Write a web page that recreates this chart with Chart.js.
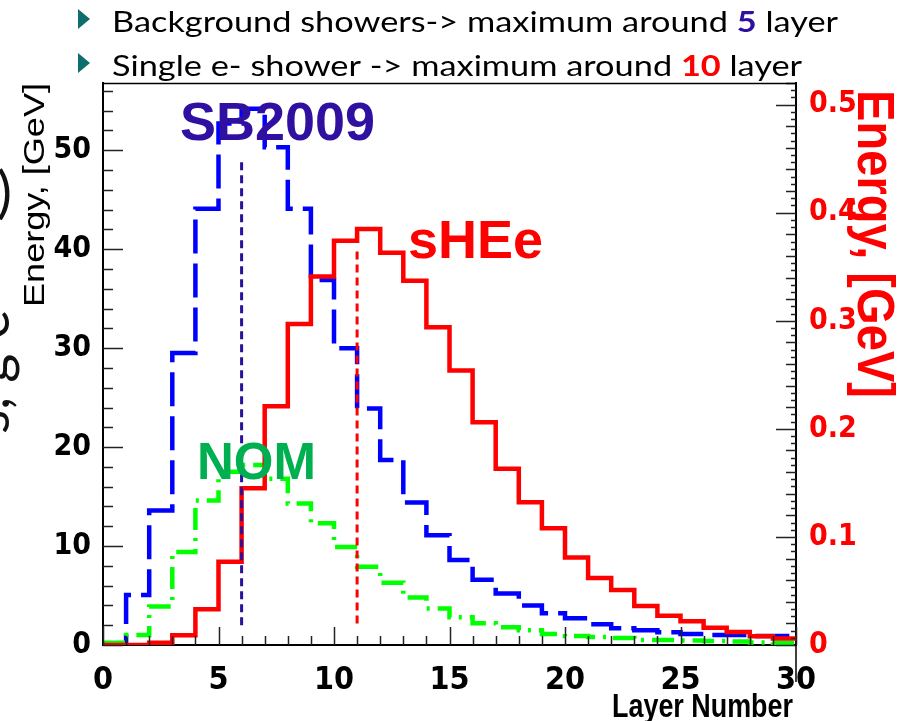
<!DOCTYPE html>
<html>
<head>
<meta charset="utf-8">
<title>Longitudinal shower profile</title>
<script src="https://cdn.jsdelivr.net/npm/chart.js@4.4.1/dist/chart.umd.min.js"></script>
<style>
  html, body { margin: 0; padding: 0; background: #fff; }
  #wrap { width: 902px; height: 721px; }
</style>
</head>
<body>
<div id="wrap"><canvas id="profileChart" width="902" height="721"></canvas></div>
<script>
// layer bin edges (30 layers)
const layerEdges = [0, 1, 2, 3, 4, 5, 6, 7, 8, 9, 10, 11, 12, 13, 14, 15,
  16, 17, 18, 19, 20, 21, 22, 23, 24, 25, 26, 27, 28, 29, 30];

// energy per layer, GeV (left axis)
const sb2009 = [0, 5.05, 13.6, 29.5, 44.1, 52.7, 54.2, 50.3, 44.1, 36.9, 30.0, 23.9, 18.7, 14.4, 11.1,
  8.6, 6.6, 5.2, 4.0, 3.2, 2.7, 2.1, 1.7, 1.5, 1.3, 1.1, 1.0, 1.0, 0.9, 0.9];
const nom = [0.23, 1.0, 3.9, 9.4, 14.6, 17.5, 18.2, 16.8, 14.3, 12.3, 9.9, 7.9, 6.3, 4.8, 3.7,
  2.8, 2.2, 1.8, 1.5, 1.1, 0.9, 0.8, 0.7, 0.5, 0.5, 0.45, 0.4, 0.35, 0.25, 0.2];

// single electron shower, GeV (right axis)
const sHEe = [0, 0, 0.002, 0.009, 0.033, 0.077, 0.145, 0.221, 0.297, 0.341, 0.374, 0.385, 0.363, 0.337, 0.294,
  0.254, 0.206, 0.163, 0.132, 0.108, 0.081, 0.062, 0.051, 0.036, 0.027, 0.022, 0.016, 0.012, 0.008, 0.006];

// shower maximum markers: layer, lower and upper end of the dashed line
const maxLayers = [6, 11];
const maxLineLow = [2.0, 0.02];
const maxLineHigh = [49.3, 0.364];

const CONDENSED = '"DejaVu Sans Condensed", "Liberation Sans", Arial, sans-serif';
const SANS = '"Liberation Sans", Arial, sans-serif';
const SLIDE = 'Lato, "Open Sans", sans-serif';

// histogram as step points on the bin edges
function histPoints(values) {
  return layerEdges.map((e, i) => ({ x: e, y: values[Math.min(i, values.length - 1)] }));
}

function markerPoints(i) {
  return [{ x: maxLayers[i], y: maxLineLow[i] }, { x: maxLayers[i], y: maxLineHigh[i] }];
}

// text squeezed/stretched along its own direction to a given length
function fitText(ctx, text, font, color, x, y, rot, len, align) {
  ctx.save();
  ctx.font = font;
  ctx.fillStyle = color;
  const w = ctx.measureText(text).width;
  ctx.translate(x, y);
  ctx.rotate(rot);
  ctx.scale(len / w, 1);
  ctx.textAlign = align;
  ctx.textBaseline = 'alphabetic';
  ctx.fillText(text, 0, 0);
  ctx.restore();
}

// inner ticks, frame, titles, series names and the slide text around the pad
const padDecor = {
  id: 'padDecor',
  afterDatasetsDraw(chart) {
    const { ctx, chartArea: a, scales: { x, y, y1 } } = chart;
    ctx.save();

    ctx.strokeStyle = '#222';
    ctx.lineWidth = 1.5;
    ctx.beginPath();
    for (let i = 0; i <= 28; i++) {
      const py = Math.round(y.getPixelForValue(i * 2)) + 0.5;
      const len = i % 5 === 0 ? 20 : 10;
      ctx.moveTo(a.left, py); ctx.lineTo(a.left + len, py);
    }
    for (let i = 0; i <= 30; i++) {
      const px = Math.round(x.getPixelForValue(i)) + 0.5;
      const len = i % 5 === 0 ? 18 : 9;
      ctx.moveTo(px, a.bottom); ctx.lineTo(px, a.bottom - len);
    }
    for (let k = 0; k <= 78; k++) {
      const py = Math.round(y1.getPixelForValue(k * 0.02 / 3)) + 0.5;
      const len = k % 15 === 0 ? 20 : (k % 3 === 0 ? 10 : 5);
      ctx.moveTo(a.right, py); ctx.lineTo(a.right - len, py);
    }
    ctx.stroke();

    // top frame line and the right axis running below the pad
    ctx.strokeStyle = '#000';
    ctx.lineWidth = 1.5;
    ctx.beginPath();
    ctx.moveTo(a.left, a.top + 0.5); ctx.lineTo(a.right, a.top + 0.5);
    ctx.moveTo(a.right, a.bottom); ctx.lineTo(a.right, a.bottom + 37);
    ctx.stroke();

    // series names
    ctx.font = 'bold 54px ' + SANS;
    ctx.textBaseline = 'alphabetic';
    ctx.fillStyle = '#3010a0';
    ctx.fillText('SB2009', x.getPixelForValue(3.33), y.getPixelForValue(51.0));
    ctx.fillStyle = '#ff0000';
    ctx.fillText('sHEe', x.getPixelForValue(13.2), y.getPixelForValue(39.1));
    ctx.font = 'bold 51px ' + SANS;
    ctx.fillStyle = '#00b050';
    ctx.fillText('NOM', x.getPixelForValue(4.07), y.getPixelForValue(16.8));

    // axis titles
    fitText(ctx, 'Energy, [GeV]', '30px ' + SANS, '#000', 44, a.top + 224, -Math.PI / 2, 224, 'left');
    fitText(ctx, 'Energy, [GeV]', 'bold 51px ' + SANS, '#ff0000', 858, a.top + 7, Math.PI / 2, 308, 'left');
    fitText(ctx, 'Layer Number', 'bold 33px ' + SANS, '#000', a.right - 3, 717, 0, 181, 'right');
    ctx.restore();
  },
  afterDraw(chart) {
    const { ctx } = chart;
    ctx.save();

    // bullet lines above the pad
    const lines = [
      { y: 32, parts: [
        { t: 'Background showers-> maximum around ', c: '#000' },
        { t: '5', c: '#3010a0', b: true },
        { t: ' layer', c: '#000' }] },
      { y: 76, parts: [
        { t: 'Single e- shower -> maximum around ', c: '#000' },
        { t: '10', c: '#ff0000', b: true },
        { t: ' layer', c: '#000' }] }
    ];
    const fontOf = p => (p.b ? 'bold ' : '') + '29px ' + SLIDE;
    let w0 = 0;
    lines[0].parts.forEach(p => { ctx.font = fontOf(p); w0 += ctx.measureText(p.t).width; });
    const sx = 726 / w0;
    lines.forEach(line => {
      ctx.save();
      ctx.translate(112, line.y);
      ctx.scale(sx, 1);
      let cx = 0;
      line.parts.forEach(p => {
        ctx.font = fontOf(p);
        ctx.fillStyle = p.c;
        ctx.fillText(p.t, cx, 0);
        cx += ctx.measureText(p.t).width;
      });
      ctx.restore();

      // teal bullet
      ctx.fillStyle = '#0e6d6d';
      ctx.beginPath();
      ctx.moveTo(78, line.y - 23);
      ctx.lineTo(90, line.y - 13);
      ctx.lineTo(78, line.y - 3);
      ctx.closePath();
      ctx.fill();
    });

    // clipped slide text at the left edge
    ctx.fillStyle = '#111';
    ctx.font = '56px ' + SLIDE;
    ctx.textAlign = 'right';
    ctx.fillText(')', 12, 212);
    ctx.save();
    ctx.translate(9, 434);
    ctx.rotate(-Math.PI / 2);
    ctx.textAlign = 'left';
    ctx.fillText('s, g e', 0, 0);
    ctx.restore();

    ctx.restore();
  }
};

const tickFont = size => ({ family: CONDENSED, size: size, weight: 'bold' });

new Chart(document.getElementById('profileChart'), {
  type: 'line',
  data: {
    datasets: [
      { label: 'SB2009 maximum', data: markerPoints(0), yAxisID: 'y',
        borderColor: '#2a0f9a', borderWidth: 3, borderDash: [8, 5] },
      { label: 'sHEe maximum', data: markerPoints(1), yAxisID: 'y1',
        borderColor: '#ff0000', borderWidth: 3, borderDash: [8, 5] },
      { label: 'sHEe', data: histPoints(sHEe), yAxisID: 'y1', stepped: 'before',
        borderColor: '#ff0000', borderWidth: 4.5 },
      { label: 'NOM', data: histPoints(nom), yAxisID: 'y', stepped: 'before',
        borderColor: '#00ff00', borderWidth: 4.5, borderDash: [22, 8, 3, 8] },
      { label: 'SB2009', data: histPoints(sb2009), yAxisID: 'y', stepped: 'before',
        borderColor: '#0000ff', borderWidth: 4.5, borderDash: [34, 10] }
    ]
  },
  options: {
    responsive: false,
    animation: false,
    devicePixelRatio: 1,
    elements: { point: { radius: 0 }, line: { tension: 0, fill: false } },
    plugins: { legend: { display: false }, tooltip: { enabled: false } },
    layout: { padding: { top: 83, left: 0, right: 0, bottom: 0 } },
    scales: {
      x: {
        type: 'linear', position: 'bottom', min: 0, max: 30,
        ticks: { stepSize: 5, color: '#000', font: tickFont(32), padding: 8, maxRotation: 0, autoSkip: false },
        grid: { display: false },
        border: { display: true, color: '#000', width: 2 },
        afterFit(s) { s.height = 76; }
      },
      y: {
        type: 'linear', position: 'left', min: 0, max: 56.8,
        ticks: { stepSize: 10, includeBounds: false, color: '#000', font: tickFont(30), padding: 4 },
        grid: { display: false },
        border: { display: true, color: '#000', width: 2 },
        afterFit(s) { s.width = 103; }
      },
      y1: {
        type: 'linear', position: 'right', min: 0, max: 0.52,
        ticks: { stepSize: 0.1, includeBounds: false, color: '#ff0000', font: tickFont(30), padding: 5,
          callback: v => (v === 0 ? '0' : v.toFixed(1)) },
        grid: { display: false },
        border: { display: true, color: '#000', width: 2 },
        afterFit(s) { s.width = 106; }
      }
    }
  },
  plugins: [padDecor]
});
</script>
</body>
</html>
